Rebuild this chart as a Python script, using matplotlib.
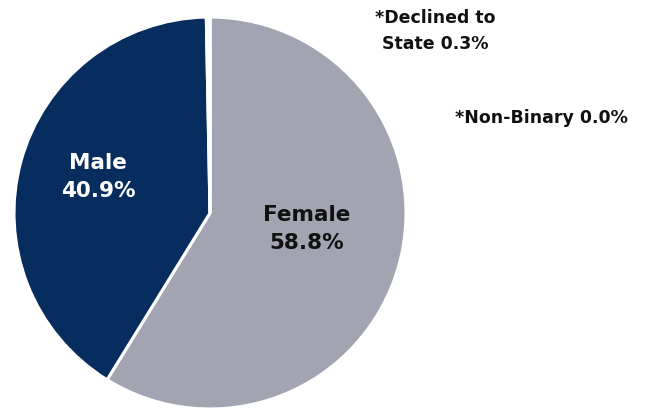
import matplotlib.pyplot as plt

# gender split, clockwise from 12 o'clock
groups = ["Female", "Male", "Declined to State", "Non-Binary"]
shares = [58.8, 40.9, 0.3, 0.0]
colors = ["#a2a4b1", "#072c5e", "#f2f2f4", "#ffffff"]

W, H = 646, 410
fig = plt.figure(figsize=(W / 100, H / 100), dpi=100)
ax = fig.add_axes([0, 0, 1, 1])

ax.pie(shares, colors=colors, startangle=90, counterclock=False,
       center=(210, 196), radius=196, frame=True,
       wedgeprops=dict(edgecolor="white", linewidth=2.2))
ax.set_xlim(0, W)
ax.set_ylim(0, H)
ax.set_aspect("equal")
ax.axis("off")

font = dict(family=["DejaVu Sans"], fontweight="bold", ha="center")

ax.text(98, H - 177, f"{groups[1]}\n{shares[1]:.1f}%", color="white",
        fontsize=15.5, va="center", linespacing=1.5, **font)
ax.text(307, H - 229, f"{groups[0]}\n{shares[0]:.1f}%", color="#111111",
        fontsize=15.5, va="center", linespacing=1.55, **font)
ax.text(435, H - 31, f"*Declined to\nState {shares[2]:.1f}%", color="#111111",
        fontsize=12.5, va="center", linespacing=1.6, **font)
ax.text(541, H - 118, f"*{groups[3]} {shares[3]:.1f}%", color="#111111",
        fontsize=12.5, va="center", **font)

fig.savefig("out.png", dpi=100)
